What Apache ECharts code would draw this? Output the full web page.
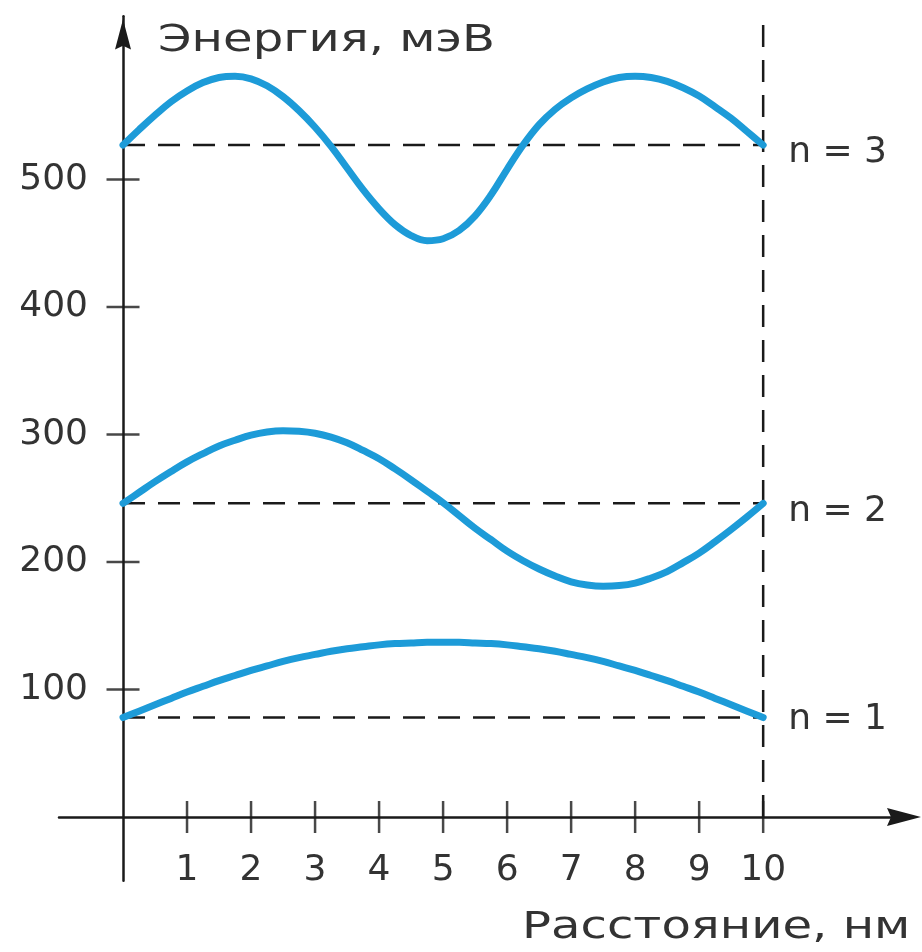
<!DOCTYPE html>
<html>
<head>
<meta charset="utf-8">
<script src="https://cdn.jsdelivr.net/npm/echarts@6/dist/echarts.min.js"></script>
<style>
html,body{margin:0;padding:0;background:#fff;}
#chart{width:922px;height:952px;}
</style>
</head>
<body>
<div id="chart"></div>
<script>
// ---- data ----
const distance = [0, 0.25, 0.5, 0.75, 1, 1.25, 1.5, 1.75, 2, 2.25, 2.5, 2.75, 3, 3.25, 3.5, 3.75, 4, 4.25, 4.5, 4.75,
                  5, 5.25, 5.5, 5.75, 6, 6.25, 6.5, 6.75, 7, 7.25, 7.5, 7.75, 8, 8.25, 8.5, 8.75, 9, 9.25, 9.5, 9.75, 10];
const curveN1 = [78, 83, 88, 93, 98, 102.5, 107, 111, 115, 118.5, 122, 125, 127.5, 130, 132, 133.5, 135, 136, 136.5, 137,
                 137, 137, 136.5, 136, 135, 133.5, 132, 130, 127.5, 125, 122, 118.5, 115, 111, 107, 102.5, 98, 93, 88, 83, 78];
const curveN2 = [246, 254.5, 263, 271, 278.5, 285, 291, 295.5, 299.5, 302, 303, 302.5, 301, 298, 293.5, 287.5, 281, 273, 264.5, 255.5,
                 246.5, 236.5, 226.5, 217.5, 208.5, 201, 194.5, 189, 184.5, 182, 181, 181.5, 183.5, 187.5, 192.5, 199.5, 207, 216, 225.5, 235.5, 246];
const curveN3 = [527, 539, 550.5, 561, 569.5, 576, 580, 581, 579, 573.5, 565, 554, 541, 526, 509, 492, 477, 464.5, 456, 452,
                 453.5, 460, 471.5, 488, 508, 527, 543, 555, 564, 571, 576.5, 580, 581, 580, 577, 572, 565.5, 557, 548, 537.5, 527];
const levels = [78, 246, 527];
const levelLabels = ['n = 1', 'n = 2', 'n = 3'];
const xTickValues = [1, 2, 3, 4, 5, 6, 7, 8, 9, 10];
const yTickValues = [100, 200, 300, 400, 500];
const wellEdges = [0, 10];
const wellTop = 625;
const yAxisTitle = 'Энергия, мэВ';
const xAxisTitle = 'Расстояние, нм';

// ---- styling ----
const FONT = 'DejaVu Sans';
const INK = '#1a1a1a';
const TEXT = '#333333';
const BLUE = '#1d9bd8';
const DASH = [22, 13];
const labelShift = [2, 8, 8];
const arrowPath = 'path://M9,0 L18,34 L9,30 L0,34 Z';

const chart = echarts.init(document.getElementById('chart'), null, {renderer: 'canvas'});

const curves = [curveN1, curveN2, curveN3];
const series = [];

levels.forEach((lv, i) => {
  series.push({
    type: 'line',
    data: [[wellEdges[0], lv], [wellEdges[1], lv]],
    showSymbol: false,
    silent: true,
    z: 2,
    lineStyle: {color: INK, width: 2.5, type: DASH},
    endLabel: {
      show: true,
      formatter: levelLabels[i],
      distance: 25,
      offset: [0, labelShift[i]],
      fontFamily: FONT,
      fontSize: 36,
      color: TEXT
    }
  });
});

series.push({
  type: 'line',
  data: [[wellEdges[1], 0], [wellEdges[1], wellTop]],
  showSymbol: false,
  silent: true,
  z: 2,
  lineStyle: {color: INK, width: 2.5, type: DASH}
});

curves.forEach((c) => {
  series.push({
    type: 'line',
    data: distance.map((x, i) => [x, c[i]]),
    smooth: 0.4,
    showSymbol: false,
    silent: true,
    z: 4,
    lineStyle: {color: BLUE, width: 7, cap: 'round', join: 'round'}
  });
});

// tick marks crossing the axes
series.push({
  type: 'scatter',
  data: xTickValues.map(v => [v, 0]),
  symbol: 'rect',
  symbolSize: [2.5, 32],
  silent: true,
  z: 3,
  itemStyle: {color: INK}
});
series.push({
  type: 'scatter',
  data: yTickValues.map(v => [0, v]),
  symbol: 'rect',
  symbolSize: [33, 2.5],
  silent: true,
  z: 3,
  itemStyle: {color: INK}
});

const option = {
  animation: false,
  backgroundColor: '#ffffff',
  grid: {left: 59, right: 18, top: 16.3, bottom: 71.25, containLabel: false, outerBoundsMode: 'none'},
  xAxis: {
    type: 'value',
    min: -1,
    max: 12.2,
    splitLine: {show: false},
    axisTick: {show: false},
    axisLine: {
      onZero: true,
      lineStyle: {color: INK, width: 2.5},
      symbol: ['none', arrowPath],
      symbolSize: [18, 34]
    },
    axisLabel: {
      customValues: xTickValues,
      margin: -28,
      fontFamily: FONT,
      fontSize: 36,
      color: TEXT
    }
  },
  yAxis: {
    type: 'value',
    min: -50,
    max: 628,
    splitLine: {show: false},
    axisTick: {show: false},
    axisLine: {
      onZero: true,
      lineStyle: {color: INK, width: 2.5},
      symbol: ['none', arrowPath],
      symbolSize: [16, 36],
      symbolOffset: [0, -18]
    },
    axisLabel: {
      customValues: yTickValues,
      margin: -29,
      fontFamily: FONT,
      fontSize: 36,
      color: TEXT
    }
  },
  graphic: [
    {
      type: 'text',
      x: 158,
      y: 41,
      scaleX: 1.3,
      style: {text: yAxisTitle, font: '37px "DejaVu Sans"', fill: TEXT, textAlign: 'left', textVerticalAlign: 'middle'}
    },
    {
      type: 'text',
      x: 522,
      y: 928,
      scaleX: 1.3,
      style: {text: xAxisTitle, font: '37px "DejaVu Sans"', fill: TEXT, textAlign: 'left', textVerticalAlign: 'middle'}
    }
  ],
  series: series
};

chart.setOption(option);
</script>
</body>
</html>
